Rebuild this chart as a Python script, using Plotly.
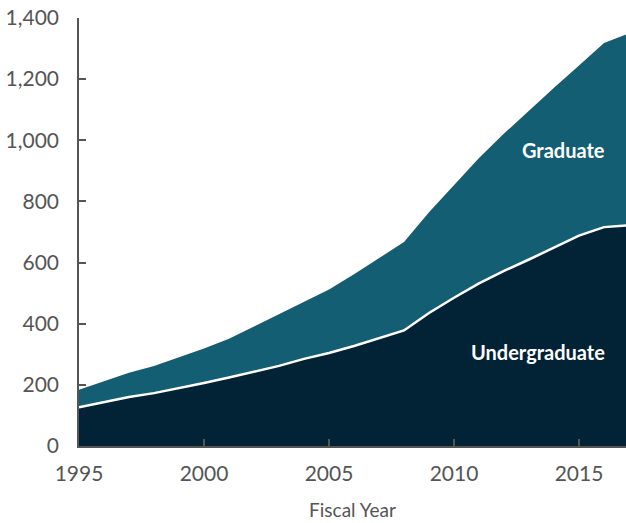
import plotly.graph_objects as go

# Fiscal years and outstanding balances by borrower level
years = list(range(1995, 2018))
undergraduate = [127, 143, 160, 173, 189, 206, 224, 242, 262, 285, 304, 327,
                 352, 378, 435, 485, 532, 573, 610, 650, 688, 716, 722]
graduate = [57, 69, 80, 89, 101, 113, 127, 149, 169, 188, 208, 235,
            263, 289, 330, 370, 410, 449, 488, 522, 557, 602, 628]

y_ticks = [0, 200, 400, 600, 800, 1000, 1200, 1400]
y_tick_text = ["0", "200", "400", "600", "800", "1,000", "1,200", "1,400"]
x_ticks = [1995, 2000, 2005, 2010, 2015]

UNDERGRAD_COLOR = "#022335"
GRAD_COLOR = "#135e73"
AXIS_COLOR = "#555555"
FONT = "Lato"

fig = go.Figure()
fig.add_trace(go.Scatter(
    x=years, y=undergraduate, name="Undergraduate", stackgroup="loans",
    mode="lines", line=dict(width=0, color=UNDERGRAD_COLOR),
    fillcolor=UNDERGRAD_COLOR, hoverinfo="skip",
))
fig.add_trace(go.Scatter(
    x=years, y=graduate, name="Graduate", stackgroup="loans",
    mode="lines", line=dict(width=0, color=GRAD_COLOR),
    fillcolor=GRAD_COLOR, hoverinfo="skip",
))
# White divider along the top of the undergraduate layer
fig.add_trace(go.Scatter(
    x=years, y=undergraduate, mode="lines",
    line=dict(color="white", width=2.5), hoverinfo="skip", showlegend=False,
))

fig.add_annotation(x=2016.12, y=967, xref="x", yref="y", text="<b>Graduate</b>",
                   showarrow=False, xanchor="right", yanchor="middle",
                   font=dict(family=FONT, size=20, color="white"))
fig.add_annotation(x=2016.12, y=307, xref="x", yref="y", text="<b>Undergraduate</b>",
                   showarrow=False, xanchor="right", yanchor="middle",
                   font=dict(family=FONT, size=20, color="white"))

fig.update_layout(
    width=626, height=523,
    margin=dict(l=79, r=0, t=18, b=77),
    plot_bgcolor="white", paper_bgcolor="white",
    showlegend=False,
    font=dict(family=FONT, color=AXIS_COLOR),
    xaxis=dict(
        range=[1995, 2016.88], tickvals=x_ticks, ticks="inside", ticklen=7,
        tickcolor=AXIS_COLOR, tickwidth=1.5, showline=True, linecolor=AXIS_COLOR,
        linewidth=1.5, showgrid=False, zeroline=False, ticklabelstandoff=8,
        tickfont=dict(family=FONT, size=21, color=AXIS_COLOR),
        title=dict(text="Fiscal Year", font=dict(family=FONT, size=19, color=AXIS_COLOR),
                   standoff=20),
    ),
    yaxis=dict(
        range=[0, 1400], tickvals=y_ticks, ticktext=y_tick_text, ticks="inside",
        ticklen=7, tickcolor=AXIS_COLOR, tickwidth=1.5, showline=True,
        linecolor=AXIS_COLOR, linewidth=1.5, showgrid=False, zeroline=False,
        ticklabelstandoff=14,
        tickfont=dict(family=FONT, size=21, color=AXIS_COLOR),
    ),
)

fig.write_html("out.html")
